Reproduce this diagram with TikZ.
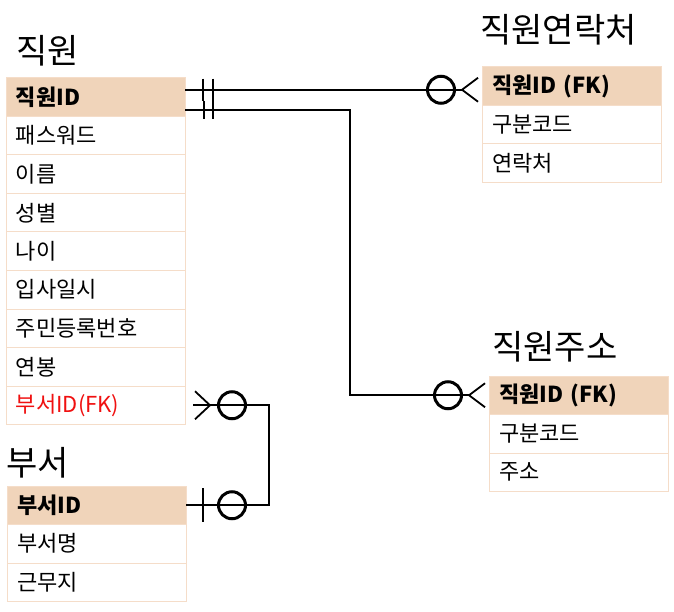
\documentclass[tikz,border=0pt]{standalone}
\usepackage{fontspec}
\setmainfont{Noto Sans CJK KR}
\usetikzlibrary{positioning,calc}
\definecolor{keyfill}{HTML}{F0D4BA}
\definecolor{rowline}{HTML}{F5DDC9}
\definecolor{fkred}{HTML}{F01010}
\tikzset{
  fld/.style={draw=rowline, line width=1pt, fill=white, anchor=north west, minimum width=179pt, minimum height=38.5pt,
    text width=159pt, inner xsep=10pt, inner ysep=0pt, outer sep=0pt, align=left, font=\fontsize{22}{22}\selectfont},
  key/.style={fld, fill=keyfill, font=\fontsize{22}{22}\selectfont\bfseries},
  ttl/.style={anchor=west, inner sep=0pt, font=\fontsize{34}{34}\selectfont},
  rel/.style={line width=1.8pt},
  ring/.style={line width=3pt}}

\begin{document}
\begin{tikzpicture}[x=1pt, y=-1pt]
  \useasboundingbox[fill=white] (0,0) rectangle (674,612);
  % 직원
  \node[ttl] (empT) at (16,51) {직원};
  \node[key] (empid) at (6,78) {직원ID};
  \node[fld, below=0pt of empid] (emppw) {패스워드};
  \node[fld, below=0pt of emppw] (empname) {이름};
  \node[fld, below=0pt of empname] (empsex) {성별};
  \node[fld, below=0pt of empsex] (empage) {나이};
  \node[fld, below=0pt of empage] (empjoin) {입사일시};
  \node[fld, below=0pt of empjoin] (empreg) {주민등록번호};
  \node[fld, below=0pt of empreg] (emppay) {연봉};
  \node[fld, below=0pt of emppay, text=fkred] (empfk) {부서ID(FK)};
  % 직원연락처
  \node[ttl] (conT) at (480,30) {직원연락처};
  \node[key] (conid) at (482,67) {직원ID (FK)};
  \node[fld, below=0pt of conid] (conkind) {구분코드};
  \node[fld, below=0pt of conkind] (contel) {연락처};
  % 직원주소
  \node[ttl] (adrT) at (492,347) {직원주소};
  \node[key] (adrid) at (489,376) {직원ID (FK)};
  \node[fld, below=0pt of adrid] (adrkind) {구분코드};
  \node[fld, below=0pt of adrkind] (adrtxt) {주소};
  % 부서
  \node[ttl] (depT) at (6,463) {부서};
  \node[key] (depid) at (7,486) {부서ID};
  \node[fld, below=0pt of depid] (depname) {부서명};
  \node[fld, below=0pt of depname] (depplace) {근무지};

  % 직원 -- 직원연락처
  \coordinate (a1) at ([yshift=7.5pt]empid.east);
  \coordinate (b1) at (a1 -| conid.west);
  \draw[rel] (a1) -- ([xshift=-20pt]b1);
  \draw[rel] ([xshift=18pt]a1) ++(0,-11) -- ++(0,22) ([xshift=28pt]a1) ++(0,-11) -- ++(0,22);
  \draw[ring] ([xshift=-41pt]b1) circle (13.5pt);
  \draw[rel] ([xshift=-4pt,yshift=12pt]b1) -- ([xshift=-20pt]b1) -- ([xshift=-4pt,yshift=-12pt]b1);
  % 직원 -- 직원주소
  \coordinate (a2) at ([yshift=-12.5pt]empid.east);
  \coordinate (b2) at (adrid.west);
  \draw[rel] (a2) -- ++(165,0) |- ([xshift=-20pt]b2);
  \draw[rel] ([xshift=19pt]a2) ++(0,-9) -- ++(0,18) ([xshift=28pt]a2) ++(0,-9) -- ++(0,18);
  \draw[ring] ([xshift=-41pt]b2) circle (13.5pt);
  \draw[rel] ([xshift=-4pt,yshift=12pt]b2) -- ([xshift=-20pt]b2) -- ([xshift=-4pt,yshift=-12pt]b2);
  % 부서 -- 직원
  \coordinate (a3) at ([xshift=8pt]empfk.east);
  \coordinate (b3) at (depid.east);
  \draw[rel] (a3) -- ++(76,0) |- (b3);
  \draw[rel] ([xshift=2pt,yshift=14pt]a3) -- ([xshift=17pt]a3) -- ([xshift=2pt,yshift=-14pt]a3);
  \draw[ring] ([xshift=39pt]a3) circle (13.5pt);
  \draw[rel] ([xshift=17pt]b3) ++(0,-17) -- ++(0,34);
  \draw[ring] ([xshift=46pt]b3) circle (13.5pt);
\end{tikzpicture}
\end{document}
